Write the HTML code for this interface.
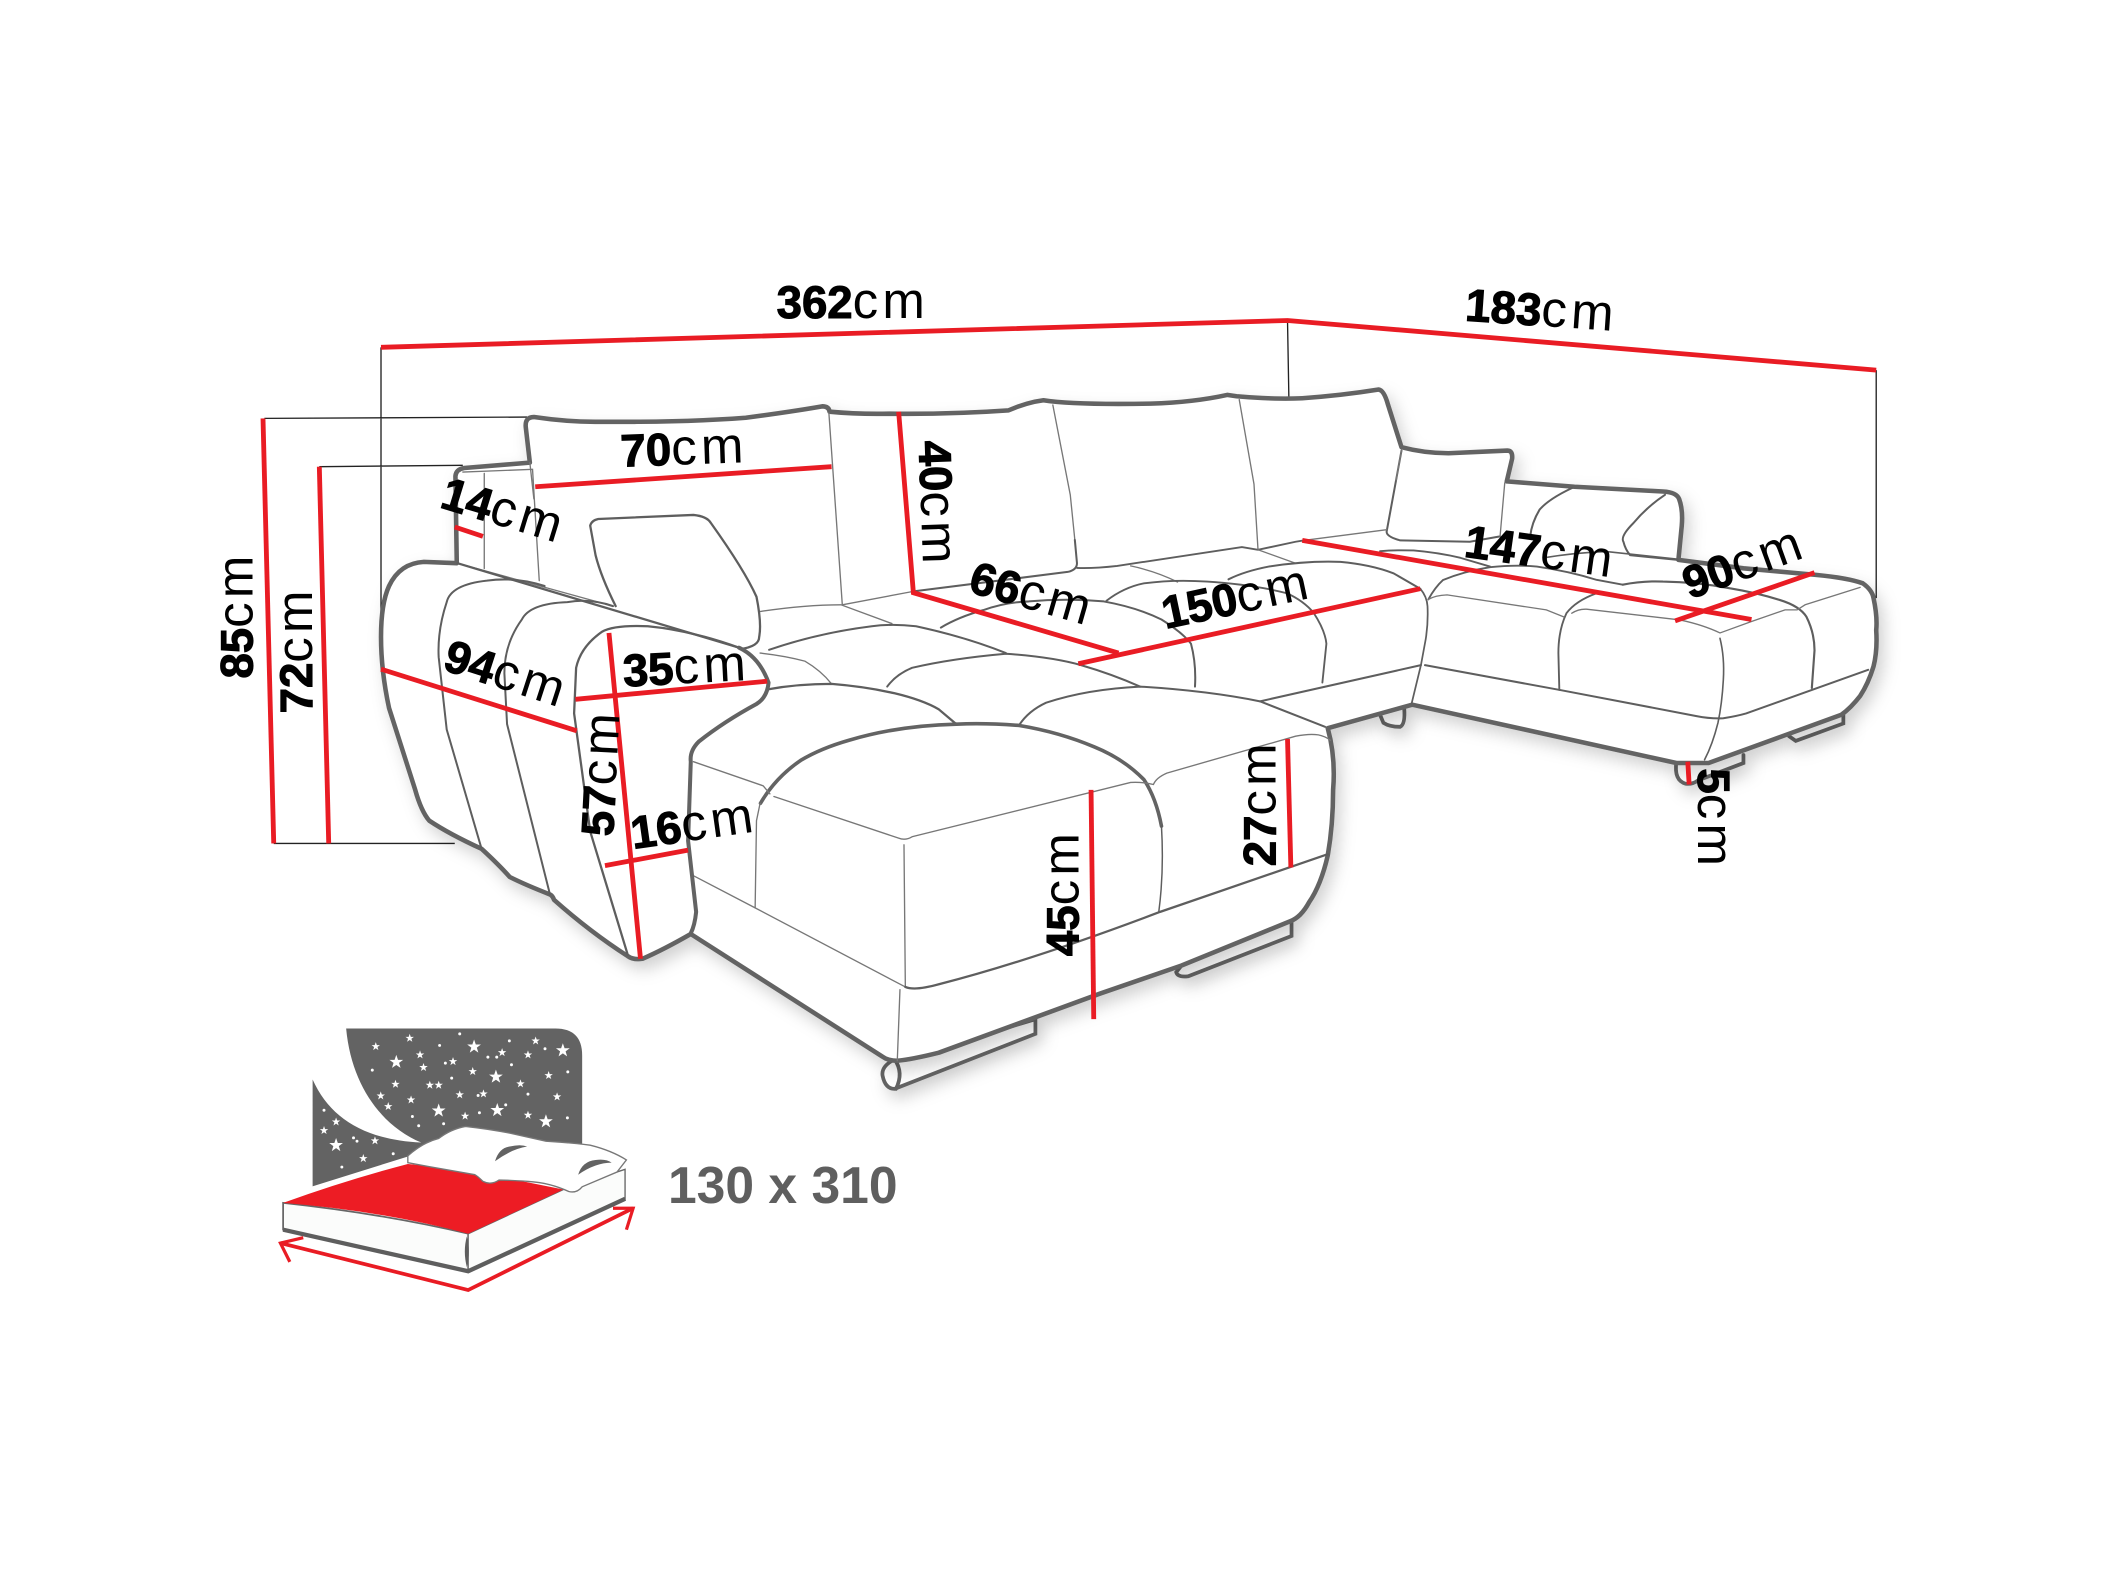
<!DOCTYPE html>
<html><head><meta charset="utf-8"><style>
html,body{margin:0;padding:0;background:#fff}
svg{display:block}
text{font-family:"Liberation Sans",sans-serif;font-size:38px;letter-spacing:3.2px;fill:#000}
tspan.b{font-weight:bold;font-size:34px;letter-spacing:0;stroke:#000;stroke-width:.8px}
.o{fill:none;stroke:#636363;stroke-width:3.4;stroke-linejoin:round;stroke-linecap:round}
.i{fill:none;stroke:#777;stroke-width:1;stroke-linecap:round}
.m{fill:none;stroke:#5e5e5e;stroke-width:1.7;stroke-linecap:round}
.k{fill:none;stroke:#222;stroke-width:1}
.r{fill:none;stroke:#e91c24;stroke-width:3.6}
</style></head><body>
<svg xmlns="http://www.w3.org/2000/svg" width="2103" height="1577" viewBox="0 0 1568 1176">
<defs>
<filter id="sh" x="-5%" y="-5%" width="110%" height="115%"><feDropShadow dx="4" dy="6" stdDeviation="6" flood-color="#000" flood-opacity=".18"/></filter>
<polygon id="s" points="0,-1 .24,-.31 .95,-.31 .38,.12 .59,.81 0,.4 -.59,.81 -.38,.12 -.95,-.31 -.24,-.31" fill="#fff"/>
</defs>
<rect width="1568" height="1176" fill="#fff"/>

<!-- thin witness lines -->
<path class="k" d="M284 259V480M960 239L961 296M1399 276V446M197 312L393 311M238 348L345 347M204 629L339 629"/>

<!-- feet -->
<g filter="url(#sh)" class="m" style="stroke-width:2.8;stroke:#636363" fill="none">
<path fill="#fff" d="M667 790Q657 795 658 802Q660 812 667 812L772 771V760L669 791"/>
<path d="M667 790Q674 800 668 812"/>
<path fill="#fff" d="M881 720L877 725Q878 729 886 728L963 698V687"/>
<path fill="#fff" d="M1029 533L1031.5 539Q1036 542 1044 542Q1048 540 1047 528"/>
<path fill="#fff" d="M1250 568Q1248 582 1257 584.5Q1262 585 1266 582L1300 569V563"/>
<path fill="#fff" d="M1334 549L1339 552.5L1374.5 539.5V533"/>
</g>

<!-- main silhouette -->
<path id="sil" fill="#fff" stroke="#636363" stroke-width="3.4" stroke-linejoin="round" filter="url(#sh)" d="M395 345L392 319Q391 311 398 311Q425 315 449 314.5Q510 315 556 311.5Q590 307 613 303Q618 303 618.5 307Q640 309 663 308.5Q710 309 752 306Q766 300 778 298.5Q800 302 858 301Q890 300 915 294.5L922 295.5Q950 298 971 297Q1000 295 1028 290.5Q1032 291 1035 302L1045 333.5Q1062 338 1080 338L1124 336Q1128 336 1127.5 342L1123.5 359L1174 363L1240 366.5Q1250 367 1252 372Q1255 380 1254 392L1251.5 417.5L1300 423.8L1354 428.7Q1378 431 1389 435Q1396 440 1397 446Q1400 460 1399 470Q1400 485 1397 497Q1393 510 1387 519Q1380 528 1373 533L1274 569L1250 569L1053 525.5L990 543Q996 565 994 589Q994 615 990 638Q985 660 976 673Q970 684 962 687L881 720L820 741L700 785Q680 790 669 791Q662 791 658 788L515 696.5Q495 708 479 715Q472 716 468 713Q440 695 413 671Q412 668 410 667Q392 660 380 654Q372 645 359 633Q335 622 320 612Q314 605 309.5 589L290 528Q284 500 284 475Q284 450 290 437Q298 420 316 419L340.5 420L339.5 355Q340 350 346 349L395 345Z"/>

<!-- thin interior: left back -->
<path class="i" d="M361 353V424M345 352L397 350L402 433M341 420L457 452"/>
<path class="i" d="M395 345L398 372M618 308L628 451"/>
<!-- centre back -->
<path class="i" d="M785 302L798 369L801.4 402.6M924 298L935 361L938 410"/>
<path class="m" style="stroke-width:1.5" d="M801.4 402.6L803 420Q803 425 796 426.5L681 441"/>
<path class="i" d="M681 441L628 451"/>
<path class="m" style="stroke-width:1.4" d="M803 423.5Q815 424 833 422L926 408L938 410L966 404L972 403"/>
<path class="i" d="M843 422Q862 426 878 434M938 410L966 420"/>
<path class="i" d="M566.7 456Q600 451 627 451L665 465"/>
<!-- left arm ribs -->
<path class="m" style="stroke-width:1.5" d="M406 437Q385 430 363 433Q336 436 333 449Q326 470 327 490L333 544L359 633"/>
<path class="m" style="stroke-width:1.5" d="M457 452Q440 446 423 449Q395 450 389 462Q376 480 376 502L378 540L410 667"/>
<path class="m" style="stroke-width:1.7" d="M551 483Q515 470 483 467Q458 466 449 471Q433 482 429.5 498L428 532L440 620L468 712"/>
<path class="m" d="M341 420L551 483"/>
<!-- left pillow -->
<path class="m" d="M459 452Q448 430 444 414L440 392Q441 388 446 387L517 384Q527 385 530 390Q555 425 564 445Q568 465 566 475Q566 482 552 484"/>
<!-- seat cushions -->
<path class="m" style="stroke-width:1.5" d="M573.4 484.6Q610 472 650 467Q665 465 683 467Q720 475 750 487"/>
<path class="i" d="M566.7 487Q585 489 600 493Q612 500 620 510"/>
<path class="m" d="M573 514Q595 510 620 510Q645 512 667 517Q688 522 700 529L713 540"/>
<path class="m" style="stroke-width:1.5" d="M661.5 512Q668 503 680 498Q710 491 750 487.5Q785 490 806 496Q830 503 850 512"/>
<path class="m" style="stroke-width:1.5" d="M760 540.5Q767 530 780 524Q810 514 850 512Q900 515 939.5 523L988 542"/>
<path class="m" style="stroke-width:1.5" d="M701.5 468Q715 460 733 455Q750 449 767 448.5Q795 446 823 448.5Q848 453 866 462Q882 472 888 480Q892 495 891 512"/>
<path class="m" style="stroke-width:1.4" d="M825 448Q838 438 853 435Q875 432 900 433.7Q935 436 959.5 442.4Q972 448 979.5 457Q988 470 989 480L986 509"/>
<path class="m" style="stroke-width:1.5" d="M916 432Q928 426 946 422.5Q975 418 999.5 419Q1022 421 1039 427.5L1059 439"/>
<path class="m" style="stroke-width:1.3" d="M1059 439Q1064 445 1064.4 452Q1065 465 1063 477L1059.5 496L1052.7 524"/>
<path class="m" style="stroke-width:1.5" d="M939.5 523L1059.5 496"/>
<!-- chaise left -->
<path class="o" style="stroke-width:2.7" d="M713 540Q670 541 633 552Q612 558 597 567Q578 580 567 599"/>
<path class="o" style="stroke-width:2.7" d="M713 540Q735 539 760 541Q790 546 816 557Q838 566 853 581.5Q862 595 866 616"/>
<path class="m" style="stroke-width:1.1" d="M866 616Q868 650 864 680"/>
<path class="i" d="M566.7 599L564 612L563 677M517 568L569 586L574 592"/>
<path class="i" d="M577 594L670 625Q675 627 680 624L843 583.5Q852 583 860 585Q862 580 870 576.5L966 549Q976 547 983 548Q988 549 992 552"/>
<path class="i" d="M674 630L675 736M515 652L563 677L675 736M671 738L669 791"/>
<path class="m" d="M675 736Q682 739 700 734Q770 716 865 680L990 637"/>
<!-- arm front thick -->
<path class="o" style="stroke-width:3" d="M551 483Q566 490 573 509Q572 520 564 525Q540 538 521 553Q514 560 515 568L513 627L519 680Q518 690 515 696"/>
<!-- right part -->
<path class="m" style="stroke-width:1.5" d="M1045 336L1034 396Q1033 400 1044 403L1096 404L1118.5 400"/>
<path class="i" d="M1041 358L1045 336M1122 360L1118.5 400M972 403L1034 395"/>
<path class="m" style="stroke-width:1.5" d="M1172 364Q1155 372 1148 380Q1142 390 1141 400"/>
<path class="m" style="stroke-width:1.5" d="M1241.5 369Q1228 378 1218 390Q1208 400 1210.5 404Q1212 410 1215.5 414L1251 417.5"/>
<path class="m" style="stroke-width:1.4" d="M1029 411Q1040 410 1054 410.5Q1072 412 1089 416L1111 422.5"/>
<path class="m" style="stroke-width:1.4" d="M1065 447Q1070 438 1076 432.5Q1092 426 1111 423Q1130 421 1146 422.5Q1170 426 1190.5 432.4L1210 436"/>
<path class="m" style="stroke-width:1.2" d="M1151 416Q1175 412 1198 411.3L1251 417"/>
<path class="m" style="stroke-width:1.6" d="M1210 436Q1225 433 1240 433.7Q1265 434 1290 438.7Q1310 442 1327 447.4Q1342 452 1347 460Q1353 472 1353 485L1351 513"/>
<path class="m" style="stroke-width:1.4" d="M1190.5 442.4Q1175 448 1168 457.3Q1162 470 1162 487L1162.7 514.5"/>
<path class="i" d="M1065 447Q1070 444 1079 443.6L1153 454.8L1166 460M1172 457.3Q1177 454 1183 454.3L1252.7 462.3Q1270 466 1282.5 472L1306 463.5L1331 454.8H1340L1346 451L1387 438"/>
<path class="m" style="stroke-width:1.2" d="M1282.5 476Q1286 490 1285 507Q1284 525 1281 539Q1277 555 1271 566.6"/>
<path class="m" style="stroke-width:1.5" d="M1062.5 496L1163 514.5L1265 534Q1275 536 1285 535.6Q1295 534 1302 532L1393 499.5"/>

<!-- red dimension lines -->
<path class="r" d="M284 259L960 239L1399 276"/>
<path class="r" d="M196 312L204 629"/>
<path class="r" d="M238 348L245 629"/>
<path class="r" d="M399 363L620 348"/>
<path class="r" d="M670 307L681 442L834 487"/>
<path class="r" d="M804 495L1059 439"/>
<path class="r" d="M971 403L1306 462"/>
<path class="r" d="M1249 463L1353 427"/>
<path class="r" d="M1258.5 568L1259.5 585"/>
<path class="r" d="M960 551L962.5 647"/>
<path class="r" d="M813.5 589L815.5 760"/>
<path class="r" d="M339 393L360 400"/>
<path class="r" d="M284 499L430 545"/>
<path class="r" d="M429 521.5L572 508"/>
<path class="r" d="M454 472L477.5 715"/>
<path class="r" d="M451 645.5L513 634"/>

<!-- labels -->
<text transform="translate(579,237)"><tspan class="b">362</tspan>cm</text>
<text transform="translate(1092,239) rotate(4)"><tspan class="b">183</tspan>cm</text>
<text transform="translate(463,348) rotate(-2)"><tspan class="b">70</tspan>cm</text>
<text transform="translate(685,329) rotate(88)"><tspan class="b">40</tspan>cm</text>
<text transform="translate(721,441) rotate(16)"><tspan class="b">66</tspan>cm</text>
<text transform="translate(869,469) rotate(-12)"><tspan class="b">150</tspan>cm</text>
<text transform="translate(1091,415) rotate(8)"><tspan class="b">147</tspan>cm</text>
<text transform="translate(1260,447) rotate(-20)"><tspan class="b">90</tspan>cm</text>
<text transform="translate(1266,573) rotate(90)"><tspan class="b">5</tspan>cm</text>
<text transform="translate(951,646) rotate(-90)"><tspan class="b">27</tspan>cm</text>
<text transform="translate(804,713) rotate(-90)"><tspan class="b">45</tspan>cm</text>
<text transform="translate(188,506) rotate(-90)"><tspan class="b">85</tspan>cm</text>
<text transform="translate(232.5,532) rotate(-90)"><tspan class="b">72</tspan>cm</text>
<text transform="translate(329,499) rotate(18)"><tspan class="b">94</tspan>cm</text>
<text transform="translate(465,512) rotate(-3)"><tspan class="b">35</tspan>cm</text>
<text transform="translate(457,624) rotate(-87)"><tspan class="b">57</tspan>cm</text>
<text transform="translate(472,633) rotate(-8)"><tspan class="b">16</tspan>cm</text>
<text transform="translate(327,378) rotate(17)"><tspan class="b">14</tspan>cm</text>

<!-- bed icon -->
<path fill="#636363" d="M258 767H414Q434 767 434 787V860L360 884L233 888V805C246 834 272 850 314 852C285 840 262 810 258 767Z"/>
<g id="stars">
<use href="#s" transform="translate(295.4 792) scale(5.4)"/><use href="#s" transform="translate(353.4 780.6) scale(5.4)"/><use href="#s" transform="translate(419.6 783.4) scale(5.4)"/><use href="#s" transform="translate(369.7 803) scale(5.4)"/><use href="#s" transform="translate(327 828.3) scale(5.4)"/><use href="#s" transform="translate(370.7 827.9) scale(5.4)"/><use href="#s" transform="translate(407 836.3) scale(5.4)"/><use href="#s" transform="translate(250.5 854) scale(5.4)"/>
<use href="#s" transform="translate(280.1 780.4) scale(3.3)"/><use href="#s" transform="translate(305.4 774.2) scale(3.3)"/><use href="#s" transform="translate(313.1 786.6) scale(3.3)"/><use href="#s" transform="translate(315.7 796) scale(3.3)"/><use href="#s" transform="translate(337.7 791.6) scale(3.3)"/><use href="#s" transform="translate(352.4 799) scale(3.3)"/><use href="#s" transform="translate(374.3 784.9) scale(3.3)"/><use href="#s" transform="translate(393.6 786.6) scale(3.3)"/><use href="#s" transform="translate(399.3 776.2) scale(3.3)"/><use href="#s" transform="translate(409 802) scale(3.3)"/><use href="#s" transform="translate(294.8 808.5) scale(3.3)"/><use href="#s" transform="translate(320.4 809.2) scale(3.3)"/><use href="#s" transform="translate(327 809.2) scale(3.3)"/><use href="#s" transform="translate(388 808.2) scale(3.3)"/><use href="#s" transform="translate(283.8 817.2) scale(3.3)"/><use href="#s" transform="translate(306.4 820.2) scale(3.3)"/><use href="#s" transform="translate(289.4 825.1) scale(3.3)"/><use href="#s" transform="translate(342.7 816.4) scale(3.3)"/><use href="#s" transform="translate(360.4 815.7) scale(3.3)"/><use href="#s" transform="translate(415.3 817.9) scale(3.3)"/><use href="#s" transform="translate(346.7 832.3) scale(3.3)"/><use href="#s" transform="translate(393.6 831.6) scale(3.3)"/><use href="#s" transform="translate(250.5 836.6) scale(3.3)"/><use href="#s" transform="translate(241.5 843) scale(3.3)"/><use href="#s" transform="translate(279.5 850.7) scale(3.3)"/><use href="#s" transform="translate(270.8 863.9) scale(3.3)"/>
</g>
<g fill="#fff">
<circle cx="342.7" cy="771" r="1.1"/><circle cx="327.7" cy="779.6" r="1.1"/><circle cx="379.7" cy="776.2" r="1.1"/><circle cx="406.3" cy="782.1" r="1.1"/><circle cx="363.7" cy="788.3" r="1.1"/><circle cx="370.3" cy="788.3" r="1.1"/><circle cx="332" cy="792.8" r="1.1"/><circle cx="381.3" cy="794" r="1.1"/><circle cx="277.5" cy="798" r="1.1"/><circle cx="423.3" cy="799.3" r="1.1"/><circle cx="336.7" cy="804" r="1.1"/><circle cx="393.6" cy="815.9" r="1.1"/><circle cx="356.4" cy="816.9" r="1.1"/><circle cx="377" cy="823.9" r="1.1"/><circle cx="357.4" cy="829.8" r="1.1"/><circle cx="307.4" cy="832.6" r="1.1"/><circle cx="312.1" cy="839.5" r="1.1"/><circle cx="330.7" cy="838" r="1.1"/><circle cx="423" cy="833.6" r="1.1"/><circle cx="241.5" cy="827.9" r="1.1"/><circle cx="263.5" cy="848.5" r="1.1"/><circle cx="266.1" cy="851" r="1.1"/><circle cx="293.1" cy="860.4" r="1.1"/><circle cx="254.8" cy="870.3" r="1.1"/>
</g>
<!-- mattress -->
<path fill="#fff" stroke="#fff" stroke-width="3" d="M205 895L304 864L470 870V900L349 952L205 921Z"/>
<path fill="#fbfcfb" stroke="#666" stroke-width="1.3" d="M211 897Q285 905 349 920L349 948L211 917Z"/>
<path fill="#fbfcfb" stroke="#666" stroke-width="1" d="M349 920L420 887L466 872V895L349 948Z"/>
<path fill="#ed1c24" d="M211 897Q258 880 304 868L345 872L420 887L349 920Q285 903 211 897Z"/>
<path fill="none" stroke="#5e5e5e" stroke-width="3.2" d="M211 917L349 948L466 894"/>
<path fill="#5e5e5e" d="M348 922Q345 933 348 945Q351 933 348 922Z"/>
<!-- pillows -->
<path fill="#fff" stroke="#777" stroke-width="1" d="M304 862Q315 852 327 849Q336 842 347 840Q365 842 380 845L407 851Q425 852 440 854Q456 858 467 865L460 874L434 885Q430 890 424 888.5Q410 882 394 881Q380 880 372 880Q366 884 360 881Q356 877 354 876L320 870L304 867Z"/>
<path fill="#636363" d="M369 866Q372 856 380 855Q388 853 393 855Q381 857 369 866Z"/>
<path fill="#636363" d="M431 876Q434 866 444 865Q452 864 456 867Q444 867 431 876Z"/>
<!-- arrows -->
<path fill="none" stroke="#e91c24" stroke-width="2.8" stroke-linejoin="miter" d="M209 927L349 962L472 901"/>
<path fill="none" stroke="#e91c24" stroke-width="2.4" d="M226 923L209 927L216 941M457 901H472L467 917"/>

<text x="498" y="897" style="font-size:38.5px;font-weight:bold;letter-spacing:0;fill:#5f5f5f">130 x 310</text>
</svg>
</body></html>
